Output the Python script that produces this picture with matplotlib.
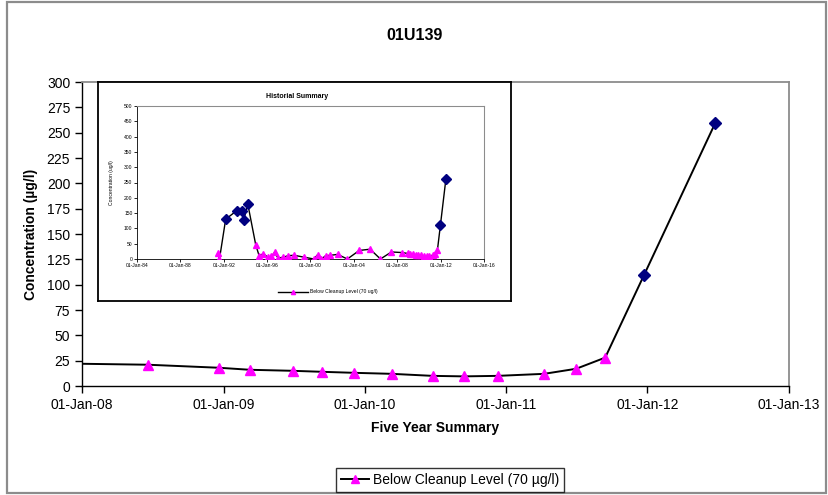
import matplotlib
matplotlib.use("Agg")
import matplotlib.pyplot as plt
import matplotlib.dates as mdates
from matplotlib.lines import Line2D
from matplotlib.patches import Rectangle
import pandas as pd

plt.rcParams["font.family"] = ["Liberation Sans", "DejaVu Sans"]

wellName = "01U139"
cleanupLevel = 70

sampleDates = [
    "1991-06-15", "1991-08-10", "1992-03-06", "1993-03-14", "1993-09-20",
    "1993-11-06", "1994-03-20", "1994-12-12", "1995-04-05", "1995-08-28",
    "1996-02-06", "1996-05-26", "1996-09-12", "1997-01-02", "1997-07-02",
    "1997-12-17", "1998-07-02", "1999-05-27", "2000-04-20", "2000-08-29",
    "2001-01-05", "2001-05-27", "2001-10-20", "2002-07-02", "2003-05-27",
    "2004-07-02", "2005-07-02", "2006-06-14", "2007-06-20",
    "2008-06-19", "2008-12-20", "2009-03-10", "2009-06-28", "2009-09-13",
    "2009-12-05", "2010-03-12", "2010-06-25", "2010-09-13", "2010-12-10",
    "2011-04-09", "2011-07-01", "2011-09-14", "2011-12-24", "2012-06-25",
]
concentrations = [
    18, 0, 130, 158, 158,
    128, 180, 47, 11, 17,
    5, 9, 22, 3, 6,
    11, 12, 6, 0, 14,
    0, 11, 12, 15, 0,
    28, 32, 0, 23,
    21, 18, 16, 15, 14,
    13, 12, 10, 9.5, 10,
    12, 17, 28, 110, 260,
]

mainTicks = ["2008-01-01", "2009-01-01", "2010-01-01", "2011-01-01", "2012-01-01", "2013-01-01"]
histTicks = ["1984-01-01", "1988-01-01", "1992-01-01", "1996-01-01", "2000-01-01",
             "2004-01-01", "2008-01-01", "2012-01-01", "2016-01-01"]

df = pd.DataFrame({"date": pd.to_datetime(sampleDates), "conc": concentrations})
below = df[df["conc"] < cleanupLevel]
above = df[df["conc"] >= cleanupLevel]

W, H = 829, 495
fig = plt.figure(figsize=(W / 100, H / 100), dpi=100)

def figBox(x0, y0, x1, y1):
    # pixel box (top-left origin) -> figure fraction rect
    return [x0 / W, 1 - y1 / H, (x1 - x0) / W, (y1 - y0) / H]

def styleAxes(ax, lw, tickLen, tickSize):
    for s in ("left", "bottom"):
        ax.spines[s].set_color("black")
        ax.spines[s].set_linewidth(lw)
    for s in ("top", "right"):
        ax.spines[s].set_color("#8c8c8c")
        ax.spines[s].set_linewidth(lw * 1.3)
    ax.tick_params(direction="out", length=tickLen, width=lw, labelsize=tickSize, colors="black")

# chart area border
fig.patches.append(Rectangle((7 / W, 2 / H), 819 / W, 491 / H, transform=fig.transFigure,
                             fill=False, edgecolor="#8c8c8c", linewidth=1.6))

# five year plot
ax = fig.add_axes(figBox(82, 82, 789, 386))
ax.plot(df["date"], df["conc"], color="black", linewidth=1.4, zorder=2)
ax.plot(below["date"], below["conc"], linestyle="none", marker="^", markersize=7,
        color="#ff00ff", zorder=3)
ax.plot(above["date"], above["conc"], linestyle="none", marker="D", markersize=6,
        color="#000080", zorder=3)
ax.set_xlim(pd.Timestamp(mainTicks[0]), pd.Timestamp(mainTicks[-1]))
ax.set_ylim(0, 300)
ax.set_yticks(range(0, 301, 25))
ax.set_xticks(pd.to_datetime(mainTicks))
ax.xaxis.set_major_formatter(mdates.DateFormatter("%d-%b-%y"))
styleAxes(ax, 1.0, 5, 10)

fig.text(415 / W, 1 - 36 / H, wellName, ha="center", va="center", fontsize=11.5, fontweight="bold")
fig.text(31 / W, 1 - 234 / H, "Concentration (µg/l)", rotation=90, ha="center", va="center",
         fontsize=10, fontweight="bold")
fig.text(435 / W, 1 - 428 / H, "Five Year Summary", ha="center", va="center",
         fontsize=10, fontweight="bold")

legendHandle = Line2D([], [], color="black", linewidth=1.4, marker="^", markersize=6,
                      markerfacecolor="#ff00ff", markeredgecolor="#ff00ff")
leg = fig.legend([legendHandle], [f"Below Cleanup Level ({cleanupLevel} µg/l)"],
                 loc="center", bbox_to_anchor=(450 / W, 1 - 480 / H), fontsize=10,
                 frameon=True, fancybox=False, handlelength=2.0, handletextpad=0.3,
                 borderpad=0.35, borderaxespad=0)
leg.get_frame().set_edgecolor("black")
leg.get_frame().set_linewidth(1.0)

# historical summary inset
frame = fig.add_axes(figBox(98, 82, 511, 301))
frame.set_xticks([]); frame.set_yticks([])
frame.set_facecolor("white")
for s in frame.spines.values():
    s.set_color("black")
    s.set_linewidth(1.3)

inset = fig.add_axes(figBox(137, 106, 484, 259))
inset.plot(df["date"], df["conc"], color="black", linewidth=1.0, zorder=2)
inset.plot(below["date"], below["conc"], linestyle="none", marker="^", markersize=5,
           color="#ff00ff", zorder=3)
inset.plot(above["date"], above["conc"], linestyle="none", marker="D", markersize=5,
           color="#000080", zorder=3)
inset.set_xlim(pd.Timestamp(histTicks[0]), pd.Timestamp(histTicks[-1]))
inset.set_ylim(0, 500)
inset.set_yticks(range(0, 501, 50))
inset.set_xticks(pd.to_datetime(histTicks))
inset.xaxis.set_major_formatter(mdates.DateFormatter("%d-%b-%y"))
styleAxes(inset, 0.6, 2, 3.6)
inset.tick_params(pad=1.2)

fig.text(297 / W, 1 - 97 / H, "Historial Summary", ha="center", va="center",
         fontsize=5, fontweight="bold")
fig.text(112 / W, 1 - 183 / H, "Concentration (ug/l)", rotation=90, ha="center",
         va="center", fontsize=3.6)
insetHandle = Line2D([], [], color="black", linewidth=1.0, marker="^", markersize=3,
                     markerfacecolor="#ff00ff", markeredgecolor="#ff00ff")
fig.legend([insetHandle], [f"Below Cleanup Level ({cleanupLevel} ug/l)"], loc="center",
           bbox_to_anchor=(328 / W, 1 - 292 / H), fontsize=3.6, frameon=False,
           handlelength=6, handletextpad=0.5)

fig.savefig("out.png", dpi=100)
